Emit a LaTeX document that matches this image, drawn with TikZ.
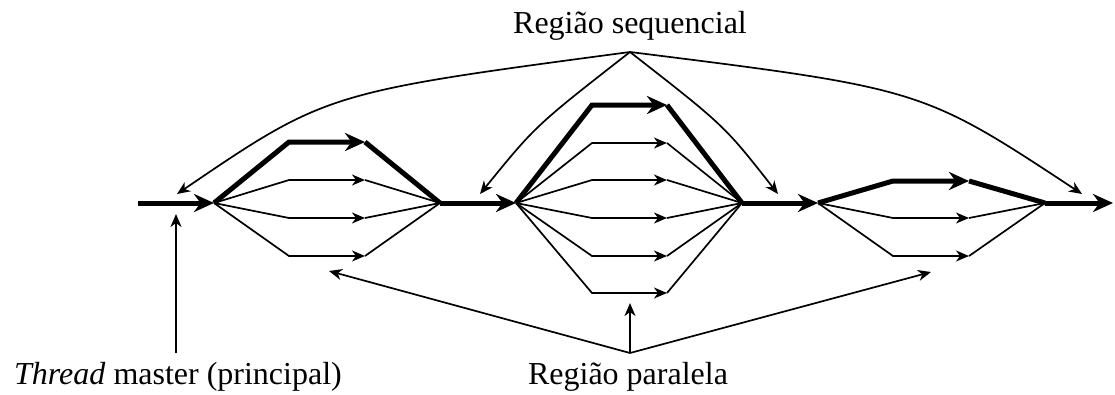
\documentclass[tikz,border=0pt]{standalone}
\usepackage{fontspec}
\setmainfont{Liberation Serif}
\usetikzlibrary{arrows.meta}
\begin{document}
\begin{tikzpicture}[x=1pt,y=-1pt,
  thinln/.style={line width=1.7pt},
  heavyln/.style={line width=5pt},
  tipS/.style={-{Stealth[length=13pt,width=11pt,inset=4pt]}},
  tipL/.style={-{Stealth[length=20pt,width=18pt,inset=6.5pt]}},
  lbl/.style={anchor=base, inner sep=0pt, font=\fontsize{32}{38}\selectfont}]
\useasboundingbox (0,0) rectangle (1115,394);

% main line points
\coordinate (s)  at (138,203);
\coordinate (f1) at (214,203);
\coordinate (j1) at (440,203);
\coordinate (f2) at (516,203);
\coordinate (j2) at (742,203);
\coordinate (f3) at (818,203);
\coordinate (j3) at (1045,203);
\coordinate (e)  at (1113,203);

% main thick arrows
\draw[heavyln,tipL] (s) -- (f1);
\draw[heavyln,tipL] (j1) -- (f2);
\draw[heavyln,tipL] (j2) -- (f3);
\draw[heavyln,tipL] (j3) -- (e);

% block 1
\foreach \n/\y in {1/142,2/180,3/218,4/256} {
  \coordinate (ka\n) at (289,\y);
  \coordinate (kb\n) at (365,\y);
}
\draw[heavyln,tipL] (f1) -- (ka1) -- (kb1);
\draw[heavyln] (kb1) -- (j1);
\foreach \n in {2,3,4} {
  \draw[thinln,tipS] (f1) -- (ka\n) -- (kb\n);
  \draw[thinln] (kb\n) -- (j1);
}

% block 2
\foreach \n/\y in {1/105,2/143,3/180,4/218,5/256,6/293} {
  \coordinate (ma\n) at (592,\y);
  \coordinate (mb\n) at (667,\y);
}
\draw[heavyln,tipL] (f2) -- (ma1) -- (mb1);
\draw[heavyln] (mb1) -- (j2);
\foreach \n in {2,3,4,5,6} {
  \draw[thinln,tipS] (f2) -- (ma\n) -- (mb\n);
  \draw[thinln] (mb\n) -- (j2);
}

% block 3
\foreach \n/\y in {1/181,2/218,3/256} {
  \coordinate (na\n) at (893,\y);
  \coordinate (nb\n) at (969,\y);
}
\draw[heavyln,tipL] (f3) -- (na1) -- (nb1);
\draw[heavyln] (nb1) -- (j3);
\foreach \n in {2,3} {
  \draw[thinln,tipS] (f3) -- (na\n) -- (nb\n);
  \draw[thinln] (nb\n) -- (j3);
}

% labels
\node[lbl] (seq) at (630,33) {Região sequencial};
\node[lbl] (par) at (628,384) {Região paralela};
\node[lbl] (mst) at (178,384) {\textit{Thread} master (principal)};

% sequential region arrows
\coordinate (sqa) at (630,52);
\coordinate (sq1) at (177,194);
\coordinate (sq2) at (480,194);
\coordinate (sq3) at (778,194);
\coordinate (sq4) at (1082,194);
\draw[thinln,tipS] (sqa) .. controls (326.5,92.4) .. (sq1);
\draw[thinln,tipS] (sqa) .. controls (535.6,125.6) .. (sq2);
\draw[thinln,tipS] (sqa) .. controls (724.4,125.6) .. (sq3);
\draw[thinln,tipS] (sqa) .. controls (922,88.5) .. (sq4);

% parallel region arrows
\coordinate (pa)  at (630,353);
\coordinate (pp1) at (329,271);
\coordinate (pp2) at (630,303);
\coordinate (pp3) at (931,272);
\draw[thinln,tipS] (pa) -- (pp1);
\draw[thinln,tipS] (pa) -- (pp2);
\draw[thinln,tipS] (pa) -- (pp3);

% thread master arrow
\coordinate (ma) at (176,353);
\coordinate (mt) at (176,214);
\draw[thinln,tipS] (ma) -- (mt);
\end{tikzpicture}
\end{document}
